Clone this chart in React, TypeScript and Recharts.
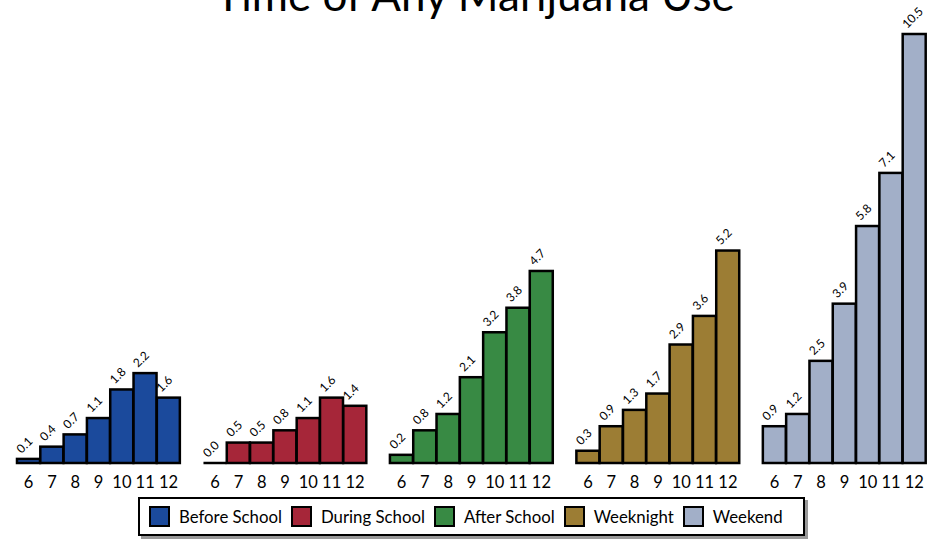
import React from 'react';
import { BarChart, Bar, XAxis, YAxis, LabelList } from 'recharts';

const grades = ['6', '7', '8', '9', '10', '11', '12'];
const groups = ['Before School', 'During School', 'After School', 'Weeknight', 'Weekend'];
const colors = ['#1B4A9C', '#A62639', '#388A44', '#9C7D34', '#A2AFC8'];
const beforeSchool = [0.1, 0.4, 0.7, 1.1, 1.8, 2.2, 1.6];
const duringSchool = [0.0, 0.5, 0.5, 0.8, 1.1, 1.6, 1.4];
const afterSchool = [0.2, 0.8, 1.2, 2.1, 3.2, 3.8, 4.7];
const weeknight = [0.3, 0.9, 1.3, 1.7, 2.9, 3.6, 5.2];
const weekend = [0.9, 1.2, 2.5, 3.9, 5.8, 7.1, 10.5];
const series = [beforeSchool, duringSchool, afterSchool, weeknight, weekend];

type Row = { key: string; grade: string; value: number | null; fill: string };
const data: Row[] = [];
series.forEach((vals, gi) => {
  if (gi > 0) data.push({ key: 'gap' + gi, grade: '', value: null, fill: 'none' });
  vals.forEach((v, i) => data.push({ key: groups[gi] + grades[i], grade: grades[i], value: v, fill: colors[gi] }));
});

const FONT = 'Lato, "Open Sans", sans-serif';

const BarShape = (props: any) => {
  const { x, y, width, height, payload } = props;
  if (!payload || payload.value === null) return null;
  if (!height || height < 0.5) {
    return <line x1={x} x2={x + width} y1={y} y2={y} stroke="#000" strokeWidth={2.5} />;
  }
  return <rect x={x} y={y} width={width} height={height} fill={payload.fill} stroke="#000" strokeWidth={2.5} />;
};

const ValueLabel = (props: any) => {
  const { x, y, width, value } = props;
  if (value === null || value === undefined) return null;
  const tx = Number(x) + Number(width) / 2 - 7;
  const ty = Number(y) - 5;
  return (
    <g transform={`translate(${tx},${ty}) rotate(-45)`}>
      <text x={0} y={0} textAnchor="start" fontSize={12} fontFamily={FONT} fill="#000">
        {Number(value).toFixed(1)}
      </text>
    </g>
  );
};

const App = () => (
  <div style={{ position: 'absolute', left: 0, top: 0, width: 941, height: 539, overflow: 'hidden', background: '#fff' }}>
    <div style={{ position: 'absolute', left: 0, width: 950, top: -28, textAlign: 'center', fontFamily: FONT, fontSize: 44, lineHeight: '44px', color: '#000' }}>
      Time of Any Marijuana Use
    </div>
    <BarChart width={941} height={539} data={data} margin={{ top: 34, right: 15, left: 17, bottom: 46 }} barCategoryGap={0}>
      <XAxis dataKey="key" interval={0} tickFormatter={(k: string) => { const r = data.find(d => d.key === k); return r ? r.grade : ''; }} axisLine={false} tickLine={false} height={30} tick={{ fill: '#000', fontSize: 16.5, fontFamily: FONT }} tickMargin={7} />
      <YAxis hide domain={[0, 10.5]} />
      <Bar dataKey="value" isAnimationActive={false} shape={BarShape}>
        <LabelList dataKey="value" content={ValueLabel} />
      </Bar>
    </BarChart>
    <div style={{ position: 'absolute', left: 138, top: 497, width: 663, height: 35, border: '2px solid #000', boxShadow: '3px 3px 0 #999', background: '#fff', display: 'flex', alignItems: 'center', fontFamily: FONT, fontSize: 16.8, color: '#000' }}>
      {groups.map((g, i) => (
        <div key={g} style={{ display: 'flex', alignItems: 'center', marginLeft: i === 0 ? 9 : 9 }}>
          <div style={{ width: 17, height: 17, background: colors[i], border: '2px solid #000' }} />
          <span style={{ marginLeft: 9 }}>{g}</span>
        </div>
      ))}
    </div>
  </div>
);

export default App;
